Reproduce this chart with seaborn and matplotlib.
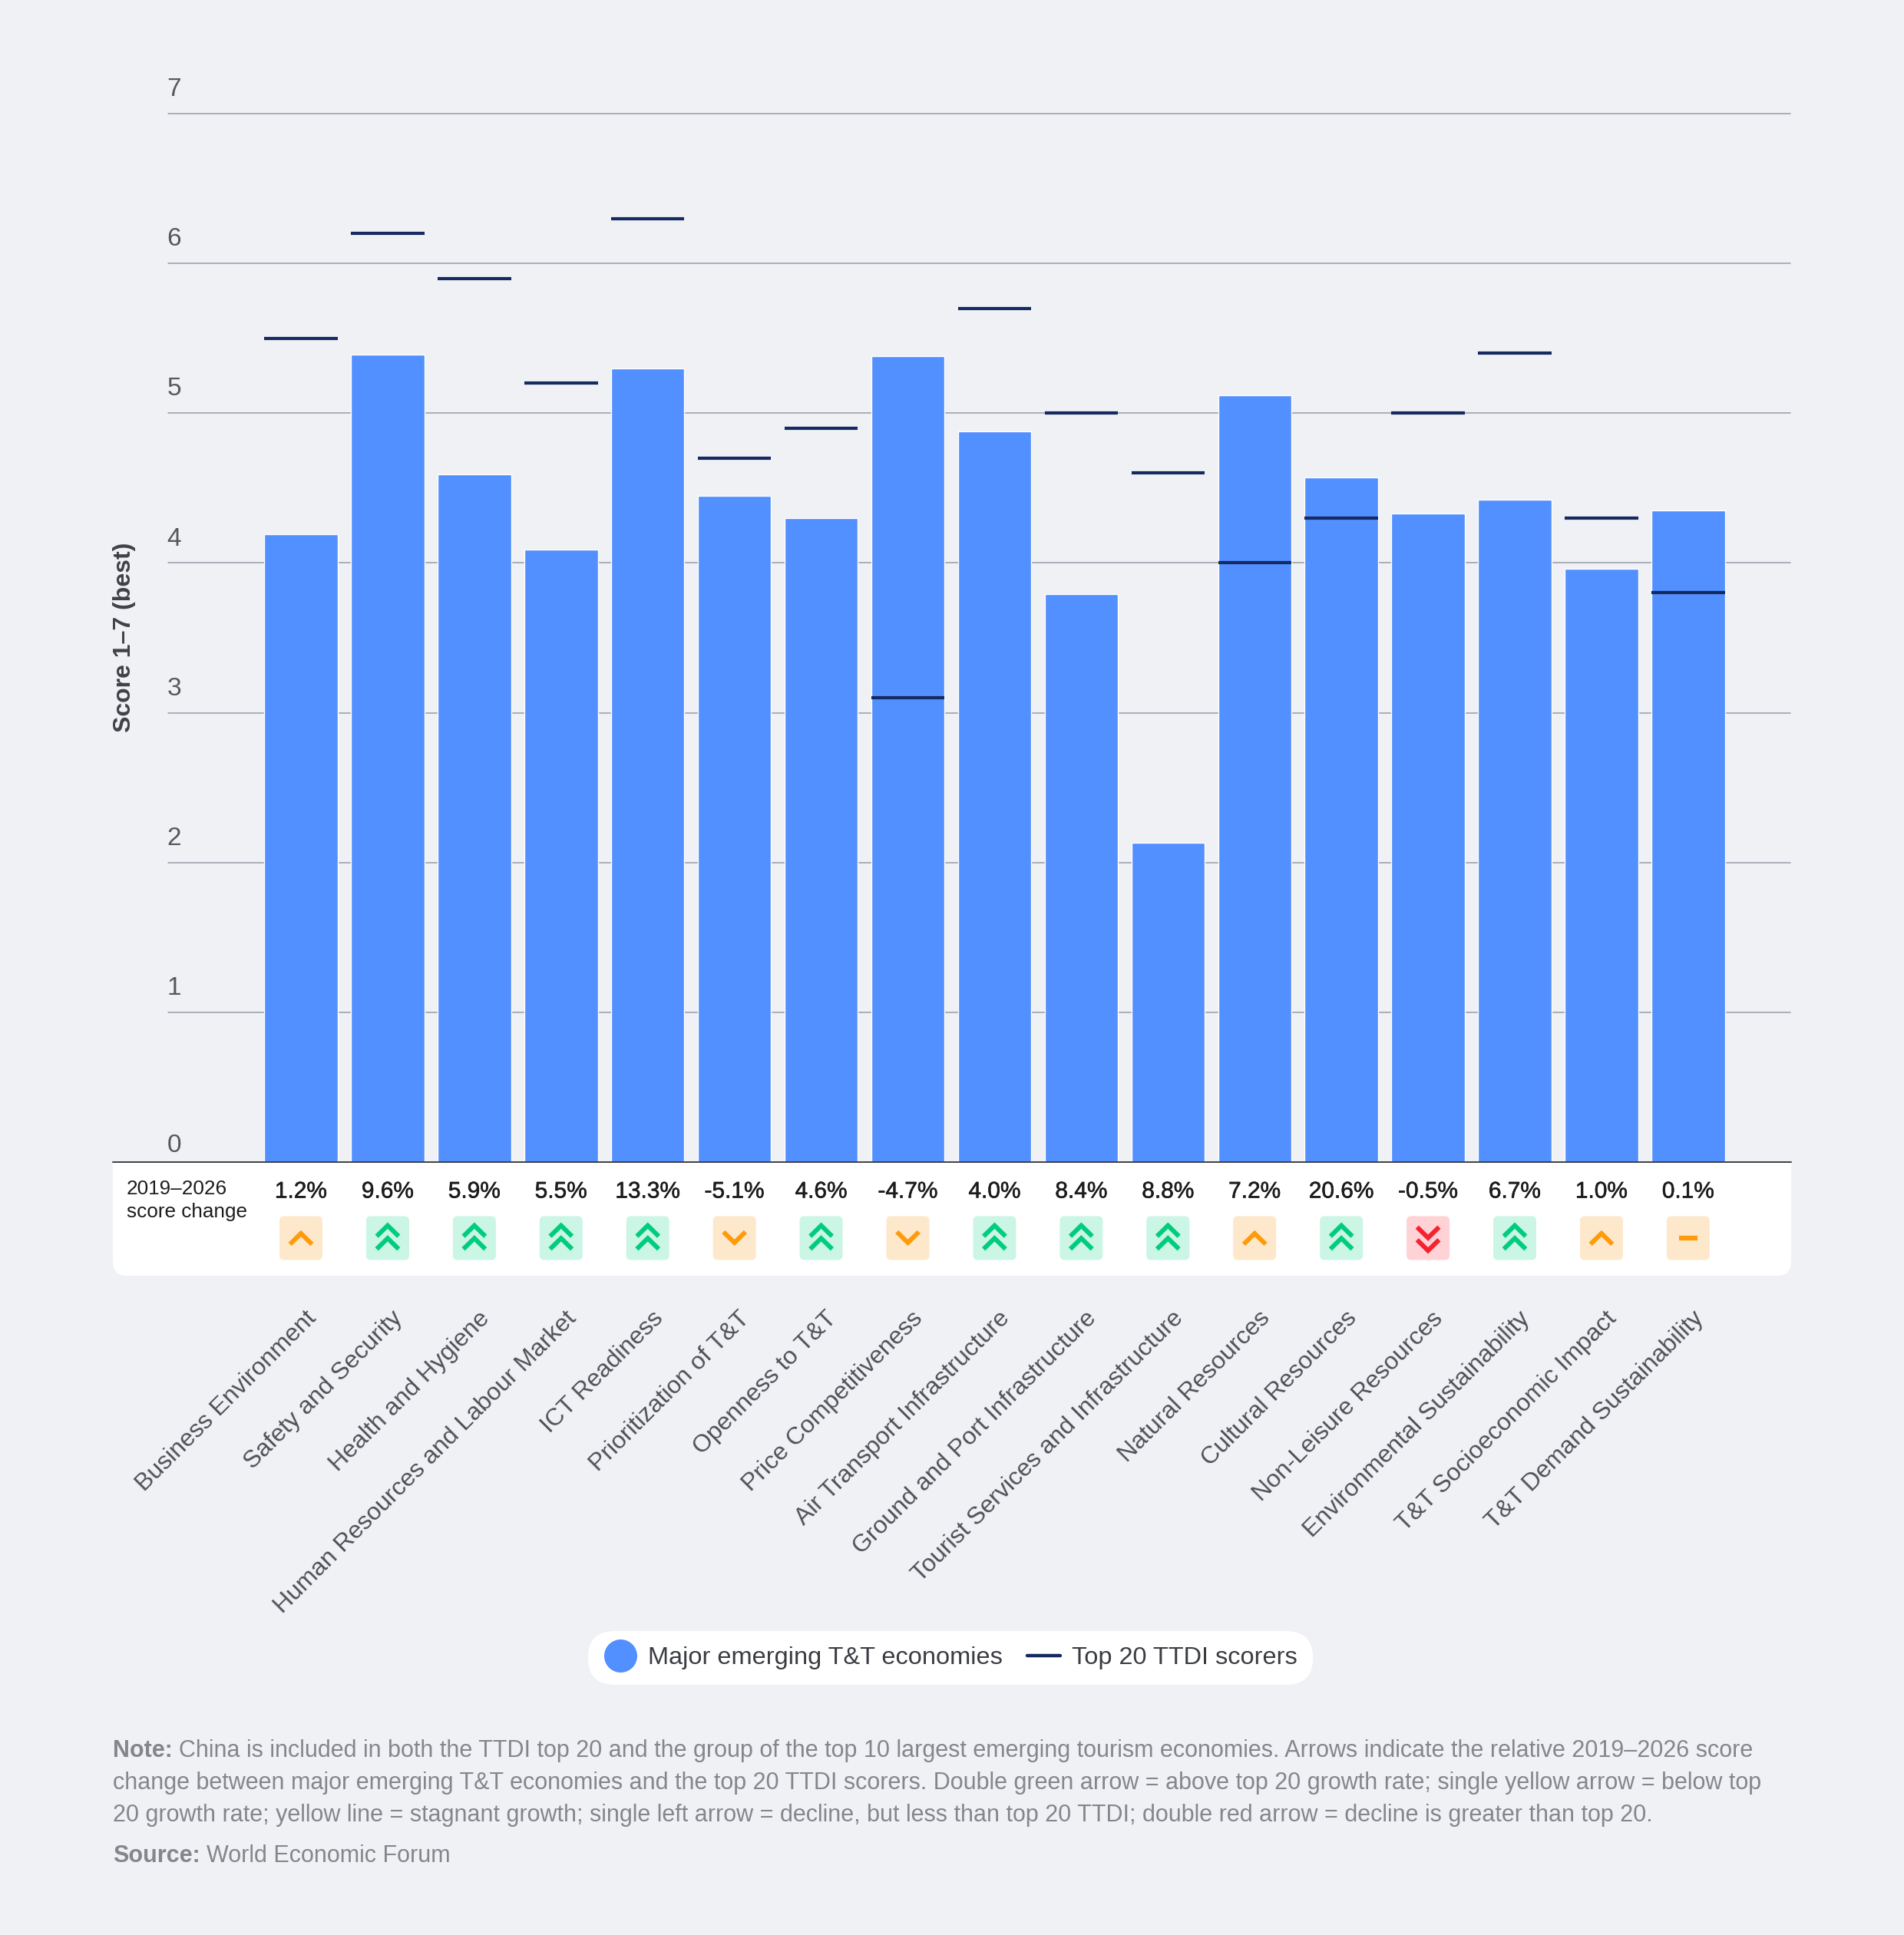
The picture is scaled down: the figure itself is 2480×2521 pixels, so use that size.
import numpy as np
import pandas as pd
import matplotlib
matplotlib.use("Agg")
import matplotlib.pyplot as plt
import matplotlib.patheffects as pe
import seaborn as sns
from matplotlib.lines import Line2D
from matplotlib.patches import FancyBboxPatch, Rectangle
from matplotlib.transforms import Affine2D, ScaledTranslation

# data
pillars = [
    "Business Environment", "Safety and Security", "Health and Hygiene",
    "Human Resources and Labour Market", "ICT Readiness", "Prioritization of T&T",
    "Openness to T&T", "Price Competitiveness", "Air Transport Infrastructure",
    "Ground and Port Infrastructure", "Tourist Services and Infrastructure",
    "Natural Resources", "Cultural Resources", "Non-Leisure Resources",
    "Environmental Sustainability", "T&T Socioeconomic Impact",
    "T&T Demand Sustainability",
]
emerging = [4.19, 5.39, 4.59, 4.09, 5.30, 4.45, 4.30, 5.38, 4.88, 3.79, 2.13,
            5.12, 4.57, 4.33, 4.42, 3.96, 4.35]
top20 = [5.5, 6.2, 5.9, 5.2, 6.3, 4.7, 4.9, 3.1, 5.7, 5.0, 4.6, 4.0, 4.3, 5.0,
         5.4, 4.3, 3.8]
score_change = ["1.2%", "9.6%", "5.9%", "5.5%", "13.3%", "-5.1%", "4.6%", "-4.7%",
                "4.0%", "8.4%", "8.8%", "7.2%", "20.6%", "-0.5%", "6.7%", "1.0%", "0.1%"]
arrows = ["up", "up2", "up2", "up2", "up2", "down", "up2", "down", "up2", "up2",
          "up2", "up", "up2", "down2", "up2", "up", "flat"]
y_ticks = [0, 1, 2, 3, 4, 5, 6, 7]

W, H = 2480, 2521
BG = "#EFF1F5"
BLUE = "#528FFF"
NAVY = "#142A60"
GRID = "#989CA8"
FONT = "Liberation Sans"
NOTE_GREY = "#84868C"

badge_bg = {"up": "#FDE8CC", "down": "#FDE8CC", "flat": "#FDE8CC",
            "up2": "#CBF5E4", "down2": "#FFD2D6"}
arrow_col = {"up": "#FF9A0A", "down": "#FF9A0A", "flat": "#FF9A0A",
             "up2": "#00CC7E", "down2": "#F5222F"}

sns.set_theme(style="white")
plt.rcParams["font.family"] = [FONT, "DejaVu Sans"]

fig = plt.figure(figsize=(W / 100, H / 100), dpi=100, facecolor=BG)
ax = fig.add_axes([219 / W, 1 - 1514 / H, (2332 - 219) / W, (1514 - 148) / H])
ax.patch.set_alpha(0)

# y down pixel coords for the furniture outside the axes
px = Affine2D().scale(1, -1).translate(0, H)

df = pd.DataFrame({"pillar": pillars, "score": emerging})
sns.barplot(data=df, x="pillar", y="score", color=BLUE, saturation=1, width=0.845,
            ax=ax, zorder=3)
xs = np.arange(len(pillars))
ax.hlines(top20, xs - 0.4225, xs + 0.4225, color=NAVY, lw=3, zorder=4)

ax.set_xlim(-1.532, 17.179)
ax.set_ylim(0, 7)
sns.despine(ax=ax, left=True, bottom=True)
ax.set_yticks(y_ticks)
ax.grid(axis="y", color=GRID, lw=1.1, zorder=0)
ax.grid(axis="x", visible=False)
ax.set_axisbelow(True)
for gl in ax.get_ygridlines():
    gl.set_clip_on(False)
ax.set_xlabel("")
ax.set_ylabel("")

# y labels sit above their gridlines, the 0 sits closer to the axis
ax.tick_params(axis="y", length=0, pad=0, labelsize=24, labelcolor="#55575C")
for t, val in zip(ax.get_yticklabels(), y_ticks):
    up = 9.6 if val == 0 else 16.5
    t.set_ha("left")
    t.set_va("baseline")
    t.set_transform(t.get_transform() + ScaledTranslation(-1 / 72, up / 72, fig.dpi_scale_trans))

ax.tick_params(axis="x", length=0, pad=143.5, labelsize=23, labelcolor="#4E5056")
x_shift = ScaledTranslation(11 / 72, 0, fig.dpi_scale_trans)
for t in ax.get_xticklabels():
    t.set_rotation(45)
    t.set_ha("right")
    t.set_va("center")
    t.set_rotation_mode("anchor")
    t.set_transform(t.get_transform() + x_shift)

fig.text(162 / W, 1 - 830 / H, "Score 1–7 (best)", rotation=90, ha="center", va="center",
         fontsize=23, fontweight="bold", color="#3F4146")

# white panel under the axis, only the bottom corners are rounded
fig.add_artist(Rectangle((147, 1514), 2333 - 147, 100, transform=px, fc="white", ec="none", zorder=1))
fig.add_artist(FancyBboxPatch((147, 1560), 2333 - 147, 102, transform=px,
                              boxstyle="round,pad=0,rounding_size=18", fc="white", ec="none", zorder=1))
fig.add_artist(Line2D([147, 2333], [1514, 1514], transform=px, color="#3C3E44", lw=1.4, zorder=3))

fig.text(165 / W, 1 - 1549 / H, "2019–2026", fontsize=18.8, color="#1C1C1F", va="center", zorder=4)
fig.text(165 / W, 1 - 1579 / H, "score change", fontsize=18.8, color="#1C1C1F", va="center", zorder=4)


def draw_arrow(cx, kind):
    """Badge plus chevrons, all in pixels around the column centre."""
    fig.add_artist(FancyBboxPatch((cx - 28, 1584.5), 56, 57, transform=px,
                                  boxstyle="round,pad=0,rounding_size=6",
                                  fc=badge_bg[kind], ec="none", zorder=3))
    col = arrow_col[kind]
    if kind == "flat":
        fig.add_artist(Line2D([cx - 12, cx + 12], [1613, 1613], transform=px, color=col,
                              lw=4.5, solid_capstyle="butt", zorder=4))
        return
    sign = -1 if kind.startswith("up") else 1
    centres = {"up": [1614], "down": [1612], "up2": [1603.7, 1620.3],
               "down2": [1605.7, 1622.3]}[kind]
    for c in centres:
        fig.add_artist(Line2D([cx - 14.3, cx, cx + 14.3],
                              [c - sign * 7, c + sign * 7, c - sign * 7],
                              transform=px, color=col, lw=4.3, solid_capstyle="butt",
                              solid_joinstyle="miter", zorder=4))


for i, (lab, kind) in enumerate(zip(score_change, arrows)):
    cx = ax.transData.transform((i, 0))[0]
    txt = fig.text(cx / W, 1 - 1552.5 / H, lab, ha="center", va="center", fontsize=21.5,
                   color="#1C1C1F", zorder=4)
    txt.set_path_effects([pe.withStroke(linewidth=0.4, foreground="#1C1C1F")])
    draw_arrow(cx, kind)

# legend pill
handles = [Line2D([], [], marker="o", ms=31, mfc=BLUE, mec="none", ls="none"),
           Line2D([], [], color=NAVY, lw=3.2)]
leg = fig.legend(handles, ["Major emerging T&T economies", "Top 20 TTDI scorers"],
                 loc="center", bbox_to_anchor=(1238 / W, 1 - 2160 / H), ncol=2,
                 fontsize=23.4, frameon=True, facecolor="white", edgecolor="none",
                 framealpha=1, handlelength=1.3, handletextpad=0.47, columnspacing=1.0,
                 borderpad=0.62, labelcolor="#3A3C42")
leg.get_frame().set_boxstyle("round", pad=0, rounding_size=1.06)

# notes, the bold lead-ins share a line with regular text
note_lines = [
    "China is included in both the TTDI top 20 and the group of the top 10 largest emerging tourism economies. Arrows indicate the relative 2019–2026 score",
    "change between major emerging T&T economies and the top 20 TTDI scorers. Double green arrow = above top 20 growth rate; single yellow arrow = below top",
    "20 growth rate; yellow line = stagnant growth; single left arrow = decline, but less than top 20 TTDI; double red arrow = decline is greater than top 20.",
]
renderer = fig.canvas.get_renderer()


def lead_in(y, head, body):
    b = fig.text(147 / W, 1 - y / H, head, fontsize=22, fontweight="bold", color=NOTE_GREY, va="center")
    x_end = b.get_window_extent(renderer).x1
    fig.text((x_end + 8) / W, 1 - y / H, body, fontsize=22, color=NOTE_GREY, va="center")


lead_in(2281, "Note:", note_lines[0])
fig.text(147 / W, 1 - 2323 / H, note_lines[1], fontsize=22, color=NOTE_GREY, va="center")
fig.text(147 / W, 1 - 2365 / H, note_lines[2], fontsize=22, color=NOTE_GREY, va="center")
lead_in(2418, "Source:", "World Economic Forum")

fig.savefig("out.png", dpi=100, facecolor=BG)
